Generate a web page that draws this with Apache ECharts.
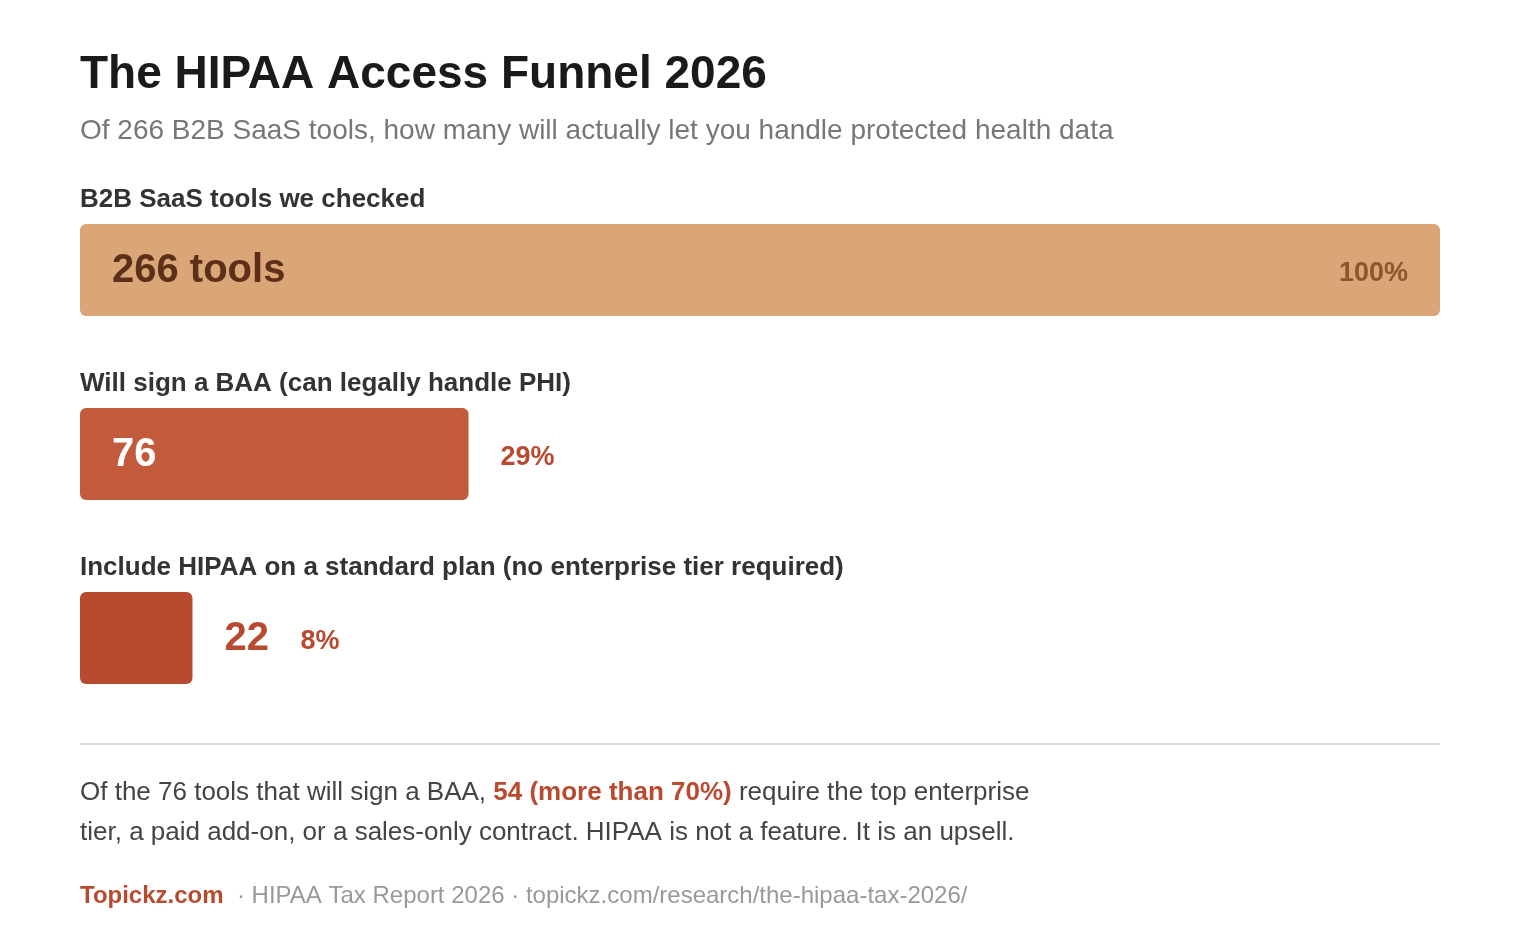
<!DOCTYPE html>
<html>
<head>
<meta charset="utf-8">
<script src="https://cdn.jsdelivr.net/npm/echarts@6/dist/echarts.min.js"></script>
<style>
html,body{margin:0;padding:0;background:#fff;}
#main{width:1520px;height:940px;}
</style>
</head>
<body>
<div id="main"></div>
<script>
const categories = [
  'B2B SaaS tools we checked',
  'Will sign a BAA (can legally handle PHI)',
  'Include HIPAA on a standard plan (no enterprise tier required)'
];
const values = [266, 76, 22];
const valueLabels = ['266 tools', '76', '22'];
const percentLabels = ['100%', '29%', '8%'];
const barColors = ['#DBA677', '#C25B3C', '#B84A30'];

const FONT = '"Liberation Sans", Arial, Helvetica, sans-serif';
const chart = echarts.init(document.getElementById('main'), null, {renderer: 'canvas'});

const valueLabelCfg = [
  {position: 'insideLeft', distance: 32, color: '#5C3018'},
  {position: 'insideLeft', distance: 32, color: '#ffffff'},
  {position: 'right', distance: 32, color: '#B84A30'}
];
const pctLabelCfg = [
  {position: 'insideRight', distance: 32, color: '#8B5530'},
  {position: 'right', distance: 32, color: '#B84A30'},
  {position: 'right', distance: 108, color: '#B84A30'}
];

const option = {
  backgroundColor: '#ffffff',
  animation: false,
  textStyle: {fontFamily: FONT},
  grid: {left: 80, right: 80, top: 178, height: 552},
  xAxis: {type: 'value', min: 0, max: values[0], show: false},
  yAxis: {type: 'category', data: categories, inverse: true, show: false},
  series: [
    {
      type: 'bar',
      barWidth: 92,
      data: values.map((v, i) => ({value: v, itemStyle: {color: barColors[i], borderRadius: 6}})),
      label: {
        show: true,
        position: [0, -24],
        verticalAlign: 'middle',
        align: 'left',
        formatter: '{b}',
        fontFamily: FONT,
        fontSize: 26,
        fontWeight: 'bold',
        color: '#333333'
      }
    },
    {
      type: 'bar',
      barWidth: 92,
      barGap: '-100%',
      silent: true,
      data: values.map((v, i) => ({
        value: v,
        itemStyle: {color: 'transparent'},
        label: Object.assign({show: true, formatter: valueLabels[i], offset: [0, 1]}, valueLabelCfg[i])
      })),
      label: {fontFamily: FONT, fontSize: 40, fontWeight: 'bold'}
    },
    {
      type: 'bar',
      barWidth: 92,
      barGap: '-100%',
      silent: true,
      data: values.map((v, i) => ({
        value: v,
        itemStyle: {color: 'transparent'},
        label: Object.assign({show: true, formatter: percentLabels[i], offset: [0, 4]}, pctLabelCfg[i])
      })),
      label: {fontFamily: FONT, fontSize: 27, fontWeight: 'bold'}
    }
  ],
  graphic: [
    {type: 'text', left: 80, top: 52, style: {text: 'The HIPAA Access Funnel 2026', font: 'bold 46px ' + FONT, fill: '#1a1a1a'}},
    {type: 'text', left: 80, top: 117, style: {text: 'Of 266 B2B SaaS tools, how many will actually let you handle protected health data', font: '28px ' + FONT, fill: '#777777'}},
    {type: 'line', shape: {x1: 80, y1: 744, x2: 1440, y2: 744}, style: {stroke: '#dddddd', lineWidth: 2}},
    {type: 'text', left: 80, top: 773, style: {
      text: 'Of the 76 tools that will sign a BAA, {h|54 (more than 70%)} require the top enterprise\ntier, a paid add-on, or a sales-only contract. HIPAA is not a feature. It is an upsell.',
      font: '26px ' + FONT, fill: '#444444', lineHeight: 40,
      rich: {h: {font: 'bold 26px ' + FONT, fill: '#B84A30', lineHeight: 40}}
    }},
    {type: 'text', left: 80, top: 884, style: {
      text: '{b|Topickz.com}  · HIPAA Tax Report 2026 · topickz.com/research/the-hipaa-tax-2026/',
      font: '24px ' + FONT, fill: '#999999',
      rich: {b: {font: 'bold 24px ' + FONT, fill: '#B84A30'}}
    }}
  ]
};
chart.setOption(option);
</script>
</body>
</html>
